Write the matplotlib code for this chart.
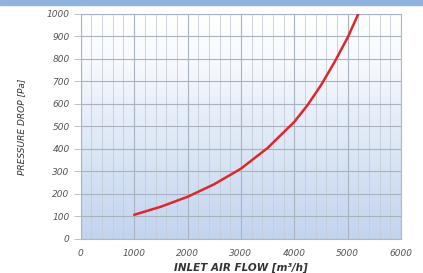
import numpy as np
import matplotlib
matplotlib.use("Agg")
import matplotlib.pyplot as plt
from matplotlib.patches import Rectangle
from matplotlib.colors import LinearSegmentedColormap

flow = [1000, 1500, 2000, 2500, 3000, 3500, 4000, 4250, 4500, 4750, 5000, 5200]
pressure = [107, 143, 187, 243, 312, 404, 520, 595, 683, 784, 895, 1000]
x_ticks = [0, 1000, 2000, 3000, 4000, 5000, 6000]
y_ticks = [0, 100, 200, 300, 400, 500, 600, 700, 800, 900, 1000]

fig = plt.figure(figsize=(4.23, 2.73), dpi=100)
fig.patches.append(Rectangle((0, 0.983), 1, 0.017, transform=fig.transFigure,
                             color="#8fb2de", zorder=0))
ax = fig.add_axes([0.191, 0.125, 0.757, 0.824])

grad = np.linspace(0, 1, 256).reshape(-1, 1)
cmap = LinearSegmentedColormap.from_list(
    "g", [(0, "#c2d4ee"), (0.45, "#dfe9f7"), (0.8, "#f8fafe"), (1, "#ffffff")])
ax.imshow(grad, cmap=cmap, extent=[0, 6000, 0, 1000], aspect="auto",
          origin="lower", zorder=0)

ax.set_xlim(0, 6000)
ax.set_ylim(0, 1000)
ax.set_xticks(x_ticks)
ax.set_yticks(y_ticks)
ax.set_xticks(np.arange(0, 6001, 200), minor=True)
ax.grid(which="major", color="#a9b3bf", linewidth=0.8, zorder=1)
ax.grid(which="minor", axis="x", color="#c4ccd6", linewidth=0.6, zorder=1)
ax.set_axisbelow(False)

ax.plot(flow, pressure, color="#e0262b", linewidth=1.8, zorder=3,
        solid_capstyle="round", solid_joinstyle="round")

for s in ax.spines.values():
    s.set_color("#b0b8c2")
    s.set_linewidth(0.8)

ax.tick_params(axis="both", which="major", labelsize=6.5, colors="#b0b8c2",
               labelcolor="#555555", length=5, width=0.6)
ax.tick_params(axis="both", which="minor", length=0)
ax.tick_params(axis="x", which="major", length=0, pad=7)
ax.tick_params(axis="y", which="major", pad=3)
for lbl in ax.get_xticklabels() + ax.get_yticklabels():
    lbl.set_fontstyle("italic")

ax.set_xlabel("INLET AIR FLOW [m³/h]", fontsize=7.5, fontstyle="italic",
              fontweight="semibold", color="#333333", va="center")
ax.xaxis.set_label_coords(0.5, -0.13)
ax.set_ylabel("PRESSURE DROP [Pa]", fontsize=6.5, fontstyle="italic",
              color="#333333", va="center")
ax.yaxis.set_label_coords(-0.184, 0.5)

fig.savefig("out.png", dpi=100)
